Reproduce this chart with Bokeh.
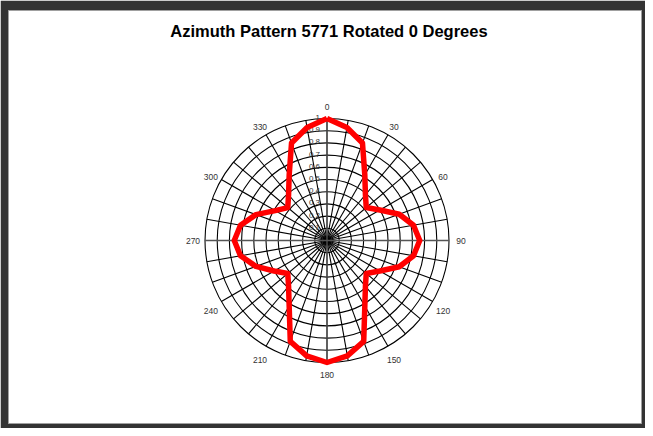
import numpy as np
from bokeh.plotting import figure
from bokeh.models import Range1d, Label, ColumnDataSource
from bokeh.core.properties import value
from bokeh.embed import file_html
from bokeh.resources import INLINE

# ---- data ----
title_text = "Azimuth Pattern 5771 Rotated 0 Degrees"
pattern_deg = [0, 10, 20, 30, 40, 50, 60, 70, 80, 90,
               100, 110, 120, 130, 140, 150, 160, 170, 180,
               190, 200, 210, 220, 230, 240, 250, 260, 270,
               280, 290, 300, 310, 320, 330, 340, 350]
pattern_val = [1.00, 0.94, 0.85, 0.62, 0.49, 0.42, 0.50, 0.63, 0.72, 0.76,
               0.72, 0.63, 0.50, 0.42, 0.49, 0.62, 0.88, 0.96, 1.00,
               0.96, 0.88, 0.62, 0.49, 0.42, 0.50, 0.62, 0.72, 0.76,
               0.72, 0.62, 0.49, 0.42, 0.49, 0.62, 0.85, 0.94]
ring_values = [0.1, 0.2, 0.3, 0.4, 0.5, 0.6, 0.7, 0.8, 0.9, 1.0]
ring_labels = ["0.1", "0.2", "0.3", "0.4", "0.5", "0.6", "0.7", "0.8", "0.9", "1"]
spoke_deg = list(range(0, 360, 10))
angle_label_deg = [0, 30, 60, 90, 120, 150, 180, 210, 240, 270, 300, 330]
angle_labels = [str(a) for a in angle_label_deg]

# ---- layout ----
W, H = 645, 428
BL, BR, BT, BB = 8, 4, 10, 5
PW, PH = W - BL - BR, H - BT - BB
R_PX = 122.0
CX, CY = 318.5, 230.0  # center inside plot frame (px from left/top)

p = figure(width=W, height=H, output_backend="svg", toolbar_location=None,
           x_axis_location=None, y_axis_location=None,
           x_range=Range1d(-CX / R_PX, (PW - CX) / R_PX),
           y_range=Range1d(-(PH - CY) / R_PX, CY / R_PX),
           min_border_left=BL, min_border_right=BR,
           min_border_top=BT, min_border_bottom=BB)
p.xgrid.visible = False
p.ygrid.visible = False
p.border_fill_color = "#333333"
p.background_fill_color = "white"
p.outline_line_color = "#a0a0a0"
p.outline_line_width = 1

# rings
p.circle(x=[0] * len(ring_values), y=[0] * len(ring_values), radius=ring_values,
         fill_color=None, line_color="black", line_width=1.1)

# spokes
sp = np.radians(spoke_deg)
p.multi_line([[0, np.sin(a)] for a in sp], [[0, np.cos(a)] for a in sp],
             line_color="black", line_width=1.1)
card = np.radians([0, 90, 180, 270])
p.multi_line([[0, np.sin(a)] for a in card], [[0, np.cos(a)] for a in card],
             line_color="#555555", line_width=1.3)

# ring labels along 0 deg spoke
p.text(x=[0] * len(ring_values), y=ring_values, text=ring_labels,
       x_offset=-7, y_offset=-1,
       text_align="right", text_baseline="middle",
       text_font=value("Liberation Sans"), text_font_size="8px",
       text_color="#333333")

# angle labels
la = np.radians(angle_label_deg)
lr = 134.0 / R_PX
yoff = [3.5 * abs(np.sin(2 * a)) for a in la]
src = ColumnDataSource(dict(x=lr * np.sin(la), y=lr * np.cos(la), t=angle_labels, yo=yoff))
p.text(x="x", y="y", text="t", y_offset="yo", source=src,
       text_align="center", text_baseline="middle",
       text_font=value("Liberation Sans"), text_font_size="8.5px",
       text_color="#333333")

# pattern
pa = np.radians(pattern_deg + [pattern_deg[0]])
pv = np.array(pattern_val + [pattern_val[0]])
p.line(pv * np.sin(pa), pv * np.cos(pa), line_color="#ff0000", line_width=5.5,
       line_join="round")

# title
p.add_layout(Label(x=0, y=(CY - 20.5) / R_PX, x_offset=2, text=title_text,
                   text_align="center", text_baseline="middle",
                   text_font="Liberation Sans", text_font_style="bold",
                   text_font_size="16.5px", text_color="black"))

open("out.html", "w").write(file_html(p, INLINE))
